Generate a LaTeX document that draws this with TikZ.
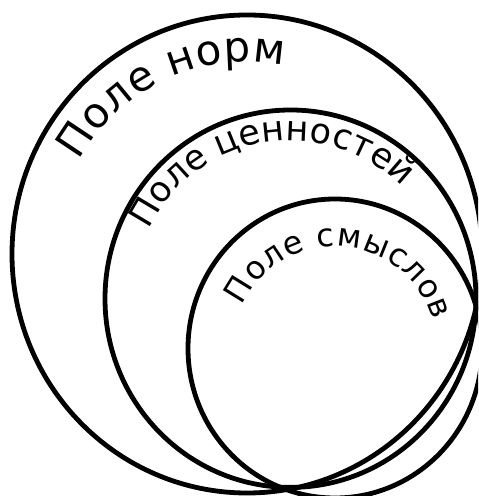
\documentclass[tikz,border=0pt]{standalone}
\usepackage{fontspec}
\setmainfont{DejaVu Sans}
\usetikzlibrary{decorations.text}
\tikzset{
  ring/.style={draw=black,line width=2.4pt},
  arctext/.style={decorate,decoration={text along path,text align=fit to path,text={#1}}}
}
\begin{document}
\begin{tikzpicture}[x=0.5pt,y=0.5pt]
\useasboundingbox (0,0) rectangle (478,496);
\clip (0,0) rectangle (478,496);
\coordinate (norm) at (247,242);
\coordinate (cenn) at (290.5,197.3);
\coordinate (smys) at (335,147.5);
\draw[ring] (norm) ellipse (235 and 239);
\draw[ring] (cenn) ellipse (185.5 and 188.7);
\draw[ring] (smys) ellipse (147 and 149.5);
\path[arctext={|\fontsize{21}{25}\selectfont|Поле норм}] (norm) ++(151:192) arc (151:79:192);
\path[arctext={|\fontsize{17.5}{21}\selectfont|Поле ценностей}] (cenn) ++(154:158) arc (154:45:158);
\path[arctext={|\fontsize{16}{19}\selectfont|Поле смыслов}] (smys) ++(155:102) arc (155:16:102);
\end{tikzpicture}
\end{document}
